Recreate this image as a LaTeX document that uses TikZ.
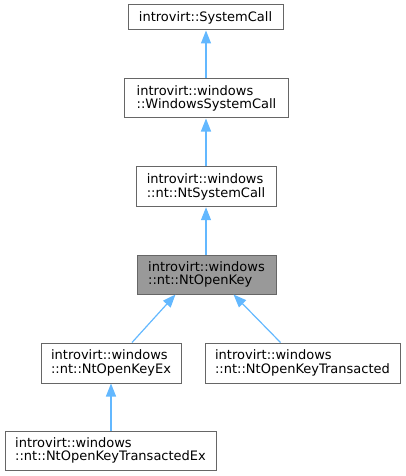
\documentclass[tikz,border=0pt]{standalone}
\usepackage{fontspec}
\setmainfont{DejaVu Sans}
\usetikzlibrary{arrows.meta}
\definecolor{edgeblue}{HTML}{63B8FF}
\definecolor{boxgray}{HTML}{666666}
\definecolor{curgray}{HTML}{999999}
\tikzset{
  cls/.style={draw=boxgray,line width=1pt,fill=white,align=left,inner sep=0pt,font=\fontsize{13}{13.5}\selectfont},
  cur/.style={cls,fill=curgray},
  inh/.style={draw=edgeblue,line width=1.2pt,{Triangle[length=13pt,width=10pt]}-}
}
\begin{document}
\begin{tikzpicture}[x=1pt,y=1pt]
\useasboundingbox (0,0) rectangle (405,-476);
% classes
\node[cls,minimum width=155,minimum height=25](sc) at (205.5,-17.5){introvirt::SystemCall};
\node[cls,minimum width=164,minimum height=39](wsc) at (206.5,-98.5){introvirt::windows\\::WindowsSystemCall};
\node[cls,minimum width=140,minimum height=40](ntsc) at (206,-186.7){introvirt::windows\\::nt::NtSystemCall};
\node[cur,minimum width=139,minimum height=39](key) at (206.5,-274.5){introvirt::windows\\::nt::NtOpenKey};
\node[cls,minimum width=140,minimum height=40](kex) at (111,-363){introvirt::windows\\::nt::NtOpenKeyEx};
\node[cls,minimum width=195,minimum height=40](kt) at (302.5,-363){introvirt::windows\\::nt::NtOpenKeyTransacted};
\node[cls,minimum width=211,minimum height=39](kte) at (110.5,-450.5){introvirt::windows\\::nt::NtOpenKeyTransactedEx};
% inheritance
\draw[inh](sc.south-|206,0)--(wsc.north-|206,0);
\draw[inh](wsc.south-|206,0)--(ntsc.north-|206,0);
\draw[inh](ntsc.south-|206,0)--(key.north-|206,0);
\draw[inh]([xshift=-31]key.south)--([xshift=21]kex.north);
\draw[inh]([xshift=27]key.south)--([xshift=-22]kt.north);
\draw[inh](kex.south)--(kte.north-|kex.south);
\end{tikzpicture}
\end{document}
